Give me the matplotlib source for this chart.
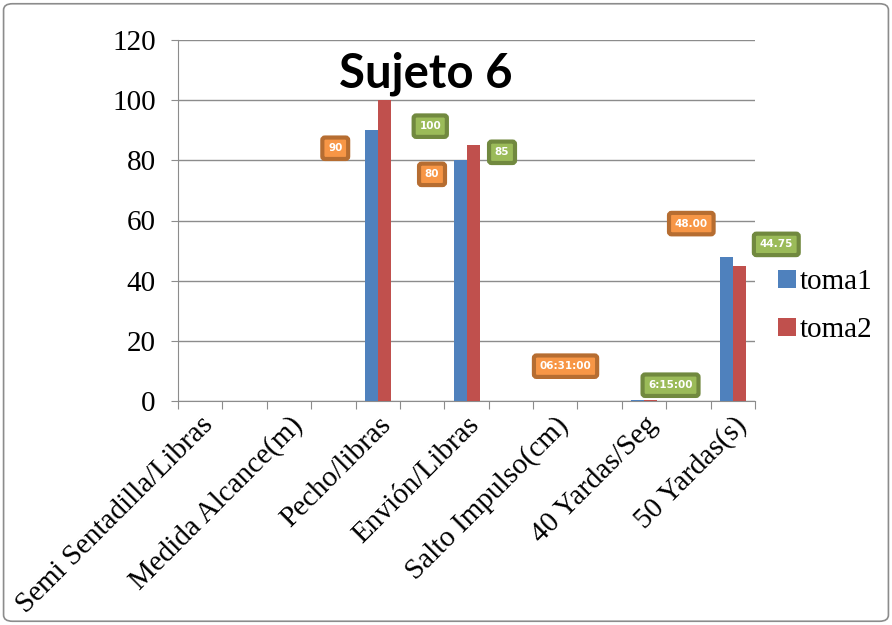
import numpy as np
import matplotlib.pyplot as plt
from matplotlib.patches import FancyBboxPatch

categories = ['Semi Sentadilla/Libras', 'Medida Alcance(m)', 'Pecho/libras', 'Envión/Libras',
              'Salto Impulso(cm)', '40 Yardas/Seg', '50 Yardas(s)']
toma1 = [0, 0, 90, 80, 0, 0.2715, 48.00]   # 06:31:00 as fraction of a day
toma2 = [0, 0, 100, 85, 0, 0.2604, 44.75]  # 6:15:00
labels1 = ['', '', '90', '80', '', '06:31:00', '48.00']
labels2 = ['', '', '100', '85', '', '6:15:00', '44.75']

fig = plt.figure(figsize=(8.92, 6.25), dpi=100)
fig.patches.append(FancyBboxPatch((0.004, 0.006), 0.992, 0.988, boxstyle='round,pad=0,rounding_size=0.01',
                                  transform=fig.transFigure, fill=False, edgecolor='#8c8c8c', lw=1.2))
ax = fig.add_axes([0.1996, 0.3584, 0.6468, 0.5776])

x = np.arange(len(categories)) * 2
w = 0.293
b1 = ax.bar(x - w / 2, toma1, w, color='#4F81BD', label='toma1', zorder=3)
b2 = ax.bar(x + w / 2, toma2, w, color='#C0504D', label='toma2', zorder=3)

ax.set_xlim(-0.5, 12.5)
ax.set_ylim(0, 120)
ax.set_yticks(np.arange(0, 121, 20))
ax.yaxis.grid(True, color='#8c8c8c', lw=1, zorder=0)
for s in ['top', 'right']:
    ax.spines[s].set_visible(False)
ax.spines['left'].set_color('#8c8c8c')
ax.spines['bottom'].set_color('#8c8c8c')

serif = 'Liberation Serif'
ax.set_xticks(np.arange(-0.5, 12.6, 1.0))
ax.set_xticklabels([])
ax.set_xticks(x, minor=True)
ax.set_xticklabels(categories, minor=True, rotation=45, ha='right', rotation_mode='anchor',
                   fontsize=21, family=serif)
ax.tick_params(axis='x', which='major', length=6, color='#8c8c8c', direction='out')
ax.tick_params(axis='x', which='minor', length=0, pad=8)
ax.tick_params(axis='y', length=5, color='#8c8c8c', labelsize=21, pad=11)
for t in ax.get_yticklabels():
    t.set_family(serif)

orange = dict(boxstyle='round,pad=0.55,rounding_size=0.25', fc='#F79646', ec='#B66D31', lw=3)
green = dict(boxstyle='round,pad=0.55,rounding_size=0.25', fc='#9BBB59', ec='#71893F', lw=3)

leg = ax.legend(loc='center left', bbox_to_anchor=(1.0, 0.262), frameon=False,
                prop={'family': serif, 'size': 21}, handlelength=0.6, handleheight=0.6,
                handletextpad=0.15, labelspacing=0.75, borderaxespad=0.4)
leg.set_zorder(1)

# label offsets in pixels from the top of each bar
off1 = {2: (-36, -18), 3: (-28, -14), 5: (-72, 34), 6: (-35, 33)}
off2 = {2: (46, -26), 3: (29, -7), 5: (20, 15), 6: (37, 22)}
for i in range(len(categories)):
    if labels1[i]:
        ax.annotate(labels1[i], (x[i] - w / 2, toma1[i]), xytext=off1[i], textcoords='offset pixels',
                    ha='center', va='center', fontsize=7.5, color='white', fontweight='bold',
                    bbox=orange, zorder=5, annotation_clip=False)
    if labels2[i]:
        ax.annotate(labels2[i], (x[i] + w / 2, toma2[i]), xytext=off2[i], textcoords='offset pixels',
                    ha='center', va='center', fontsize=7.5, color='white', fontweight='bold',
                    bbox=green, zorder=5, annotation_clip=False)

fig.text(0.477, 0.882, 'Sujeto 6', ha='center', va='center', fontsize=34, fontweight='bold',
         family='Lato')

fig.savefig('out.png', dpi=100)
